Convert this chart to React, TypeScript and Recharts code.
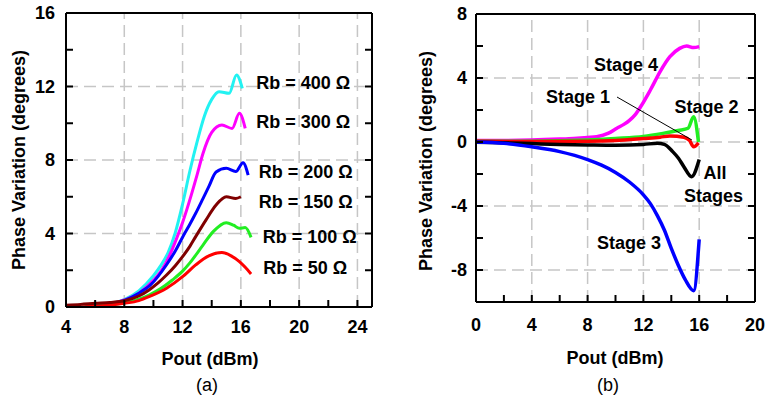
import React from 'react';
import { LineChart, Line, XAxis, YAxis, ReferenceLine, ReferenceDot } from 'recharts';

const FONT = '"Liberation Sans", Arial, Helvetica, sans-serif';

// ---------- Chart (a) data ----------
const rb400: number[][] = [[5.2, 0], [6, 0.05], [7, 0.16], [8, 0.4], [9, 0.88], [10, 1.7], [10.5, 2.25], [11, 2.95], [11.5, 4.05], [12, 5.6], [12.5, 7.4], [13, 9.0], [13.5, 10.4], [14, 11.3], [14.5, 11.72], [15.2, 11.63], [15.7, 12.63], [16.1, 11.9]];
const rb300: number[][] = [[5.3, 0], [6, 0.05], [7, 0.15], [8, 0.38], [9, 0.75], [10, 1.45], [10.6, 2.05], [11.1, 2.8], [11.6, 3.75], [12, 4.6], [12.6, 6.1], [13, 7.2], [13.4, 8.35], [14, 9.5], [14.7, 9.9], [15.4, 9.72], [15.9, 10.54], [16.3, 9.72]];
const rb200: number[][] = [[5.4, 0], [6, 0.05], [7, 0.14], [8, 0.36], [9, 0.75], [9.8, 1.2], [10.9, 2.3], [11.5, 3.05], [12, 3.8], [12.5, 4.5], [12.9, 5.1], [13.4, 5.9], [13.8, 6.55], [14.3, 7.35], [15, 7.55], [15.65, 7.37], [16.15, 7.85], [16.5, 7.18]];
const rb150: number[][] = [[4, 0.1], [5, 0.14], [6, 0.2], [7, 0.25], [8, 0.34], [9, 0.6], [9.7, 0.93], [10.3, 1.3], [10.9, 1.74], [11.5, 2.25], [12, 2.74], [12.5, 3.3], [12.9, 3.83], [13.6, 4.73], [14.3, 5.55], [15, 6.0], [15.65, 5.91], [16, 6.0]];
const rb100: number[][] = [[5.3, 0], [6, 0.05], [7, 0.12], [8, 0.23], [9, 0.42], [9.7, 0.65], [10.5, 1.0], [11.3, 1.47], [12, 1.95], [12.5, 2.4], [13.4, 3.37], [14.1, 4.1], [15, 4.59], [15.5, 4.45], [15.9, 4.28], [16.3, 4.32], [16.7, 3.79]];
const rb50: number[][] = [[5.1, 0], [6, 0.05], [7, 0.1], [8, 0.2], [9, 0.35], [9.7, 0.56], [10.9, 1.02], [12, 1.65], [12.9, 2.29], [13.8, 2.78], [14.7, 2.96], [15.3, 2.8], [15.9, 2.47], [16.3, 2.16], [16.7, 1.8]];

const aXTicks = [4, 6, 8, 10, 12, 14, 16, 18, 20, 22, 24];
const aXLabels = [4, 8, 12, 16, 20, 24];
const aYTicks = [0, 2, 4, 6, 8, 10, 12, 14, 16];
const aYLabels = [0, 4, 8, 12, 16];
const aGridX = [8, 12, 16, 20, 24];
const aGridY = [4, 8, 12];

const aNotes: { text: string; x: number; y: number }[] = [
  { text: 'Rb = 400 Ω', x: 20.28, y: 12.19 },
  { text: 'Rb = 300 Ω', x: 20.28, y: 10.07 },
  { text: 'Rb = 200 Ω', x: 20.45, y: 7.35 },
  { text: 'Rb = 150 Ω', x: 20.45, y: 5.71 },
  { text: 'Rb = 100 Ω', x: 20.72, y: 3.81 },
  { text: 'Rb = 50 Ω', x: 20.42, y: 2.12 },
];

// ---------- Chart (b) data ----------
const stage4: number[][] = [[0, 0.1], [2, 0.1], [4, 0.12], [6, 0.18], [7, 0.22], [8, 0.28], [8.65, 0.33], [9.5, 0.55], [10.1, 0.86], [10.6, 1.1], [11, 1.35], [11.4, 1.7], [11.8, 2.2], [12.5, 3.25], [13.2, 4.4], [13.9, 5.33], [14.6, 5.85], [15.1, 6.0], [15.6, 5.9], [16, 5.96]];
const stage2: number[][] = [[0, 0.05], [4, 0.05], [8, 0.12], [10, 0.22], [12, 0.35], [13.4, 0.54], [14.5, 0.72], [15.2, 0.86], [15.6, 1.58], [15.95, 0]];
const stage1: number[][] = [[0, 0.05], [4, 0.03], [8, 0.05], [10, 0.1], [12, 0.22], [13.2, 0.3], [13.9, 0.38], [14.9, 0.3], [15.3, 0.1], [15.6, -0.3], [15.95, -0.05]];
const allStages: number[][] = [[0, -0.02], [2, -0.05], [4, -0.1], [6, -0.15], [8, -0.18], [10, -0.2], [12, -0.15], [13, -0.08], [13.5, -0.15], [14.1, -0.6], [14.5, -1.0], [14.9, -1.54], [15.45, -2.17], [16, -1.1]];
const stage3: number[][] = [[0, 0], [2, -0.08], [4, -0.3], [6, -0.6], [8, -1.1], [9, -1.45], [10, -1.9], [11, -2.5], [12, -3.3], [12.5, -3.85], [13, -4.6], [13.5, -5.5], [14, -6.65], [14.5, -7.7], [15, -8.6], [15.6, -9.29], [16, -6.08]];

const bXTicks = [0, 2, 4, 6, 8, 10, 12, 14, 16, 18, 20];
const bXLabels = [0, 4, 8, 12, 16, 20];
const bYTicks = [-10, -8, -6, -4, -2, 0, 2, 4, 6, 8];
const bYLabels = [-8, -4, 0, 4, 8];
const bGridX = [4, 8, 12, 16];
const bGridY = [-8, -4, 0, 4];

const bNotes: { text: string; x: number; y: number }[] = [
  { text: 'Stage 4', x: 10.75, y: 4.81 },
  { text: 'Stage 1', x: 7.31, y: 2.81 },
  { text: 'Stage 2', x: 16.52, y: 2.19 },
  { text: 'All', x: 17.13, y: -1.94 },
  { text: 'Stages', x: 17.03, y: -3.375 },
  { text: 'Stage 3', x: 10.97, y: -6.31 },
];
const leader = [{ x: 10.11, y: 2.81 }, { x: 15.48, y: 0.125 }];

const toPts = (arr: number[][]) => arr.map(([x, y]) => ({ x, y }));
const fmt = (labels: number[]) => (v: number) => (labels.includes(v) ? String(v) : '');

const tickStyle = { fill: '#000', fontSize: 18, fontWeight: 700, fontFamily: FONT };
const gridStyle = { stroke: '#c6c6c6', strokeWidth: 1.5, strokeDasharray: '12 6' };
const axisLine = { stroke: '#000', strokeWidth: 2 };

const textBold: React.CSSProperties = {
  position: 'absolute',
  fontFamily: FONT,
  fontWeight: 700,
  fontSize: 18,
  color: '#000',
  whiteSpace: 'nowrap',
  lineHeight: '20px',
};

function Title({ x, y, text, rotate, bold = true }: { x: number; y: number; text: string; rotate?: boolean; bold?: boolean }) {
  return (
    <div
      style={{
        ...textBold,
        fontWeight: bold ? 700 : 400,
        left: x,
        top: y,
        transform: `translate(-50%, -50%)${rotate ? ' rotate(-90deg)' : ''}`,
      }}
    >
      {text}
    </div>
  );
}

function ChartA() {
  const series: [number[][], string][] = [
    [rb400, '#22f2f2'],
    [rb300, '#ff00ff'],
    [rb200, '#0000ff'],
    [rb100, '#22ee22'],
    [rb50, '#ff0000'],
    [rb150, '#800000'],
  ];
  return (
    <LineChart width={382} height={402} margin={{ top: 13, right: 0, bottom: 65, left: 0 }} style={{ fontFamily: FONT }}>
      <XAxis
        type="number"
        dataKey="x"
        domain={[4, 25]}
        ticks={aXTicks}
        tickFormatter={fmt(aXLabels)}
        allowDataOverflow
        tickSize={-7}
        tickMargin={20}
        height={30}
        axisLine={axisLine}
        tickLine={{ stroke: '#000', strokeWidth: 2 }}
        tick={tickStyle}
        interval={0}
      />
      <YAxis
        type="number"
        domain={[0, 16]}
        ticks={aYTicks}
        tickFormatter={fmt(aYLabels)}
        allowDataOverflow
        tickSize={-7}
        tickMargin={18}
        width={66}
        axisLine={axisLine}
        tickLine={{ stroke: '#000', strokeWidth: 2 }}
        tick={tickStyle}
        interval={0}
      />
      <YAxis
        yAxisId="r"
        orientation="right"
        type="number"
        domain={[0, 16]}
        ticks={aYTicks}
        tickFormatter={() => ''}
        allowDataOverflow
        tickSize={-7}
        width={10}
        axisLine={axisLine}
        tickLine={{ stroke: '#000', strokeWidth: 2 }}
        interval={0}
      />
      {aGridX.map((v) => (
        <ReferenceLine key={'gx' + v} x={v} {...gridStyle} />
      ))}
      {aGridY.map((v) => (
        <ReferenceLine key={'gy' + v} y={v} {...gridStyle} />
      ))}
      <ReferenceLine y={16} stroke="#000" strokeWidth={2} />
      {series.map(([d, c], i) => (
        <Line
          key={i}
          data={toPts(d)}
          dataKey="y"
          type="monotone"
          stroke={c}
          strokeWidth={3}
          dot={false}
          isAnimationActive={false}
        />
      ))}
      {aNotes.map((n) => (
        <ReferenceDot
          key={n.text}
          x={n.x}
          y={n.y}
          r={0}
          fill="none"
          stroke="none"
          label={{ value: n.text, position: 'center', fill: '#000', fontSize: 18, fontWeight: 700, fontFamily: FONT }}
        />
      ))}
    </LineChart>
  );
}

function ChartB() {
  const series: [number[][], string, number][] = [
    [stage4, '#ff00ff', 3.5],
    [stage2, '#22ee22', 3.5],
    [stage1, '#ff0000', 3.5],
    [allStages, '#000000', 3.5],
    [stage3, '#0000ff', 3.5],
  ];
  return (
    <LineChart width={382} height={402} margin={{ top: 14, right: 0, bottom: 70, left: 0 }} style={{ fontFamily: FONT }}>
      <XAxis
        type="number"
        dataKey="x"
        domain={[0, 20]}
        ticks={bXTicks}
        tickFormatter={fmt(bXLabels)}
        allowDataOverflow
        tickSize={-7}
        tickMargin={23}
        height={30}
        axisLine={axisLine}
        tickLine={{ stroke: '#000', strokeWidth: 2 }}
        tick={tickStyle}
        interval={0}
      />
      <YAxis
        type="number"
        domain={[-10, 8]}
        ticks={bYTicks}
        tickFormatter={fmt(bYLabels)}
        allowDataOverflow
        tickSize={-7}
        tickMargin={16}
        width={93}
        axisLine={axisLine}
        tickLine={{ stroke: '#000', strokeWidth: 2 }}
        tick={tickStyle}
        interval={0}
      />
      <YAxis
        yAxisId="r"
        orientation="right"
        type="number"
        domain={[-10, 8]}
        ticks={bYTicks}
        tickFormatter={() => ''}
        allowDataOverflow
        tickSize={-7}
        width={10}
        axisLine={axisLine}
        tickLine={{ stroke: '#000', strokeWidth: 2 }}
        interval={0}
      />
      {bGridX.map((v) => (
        <ReferenceLine key={'gx' + v} x={v} {...gridStyle} />
      ))}
      {bGridY.map((v) => (
        <ReferenceLine key={'gy' + v} y={v} {...gridStyle} />
      ))}
      <ReferenceLine y={8} stroke="#000" strokeWidth={2} />
      {series.map(([d, c, w], i) => (
        <Line
          key={i}
          data={toPts(d)}
          dataKey="y"
          type="monotone"
          stroke={c}
          strokeWidth={w}
          dot={false}
          isAnimationActive={false}
        />
      ))}
      <ReferenceLine segment={leader} stroke="#000" strokeWidth={1} />
      {bNotes.map((n) => (
        <ReferenceDot
          key={n.text}
          x={n.x}
          y={n.y}
          r={0}
          fill="none"
          stroke="none"
          label={{ value: n.text, position: 'center', fill: '#000', fontSize: 18, fontWeight: 700, fontFamily: FONT }}
        />
      ))}
    </LineChart>
  );
}

export default function App() {
  return (
    <div style={{ position: 'absolute', left: 0, top: 0, width: 765, height: 402, background: '#fff', overflow: 'hidden' }}>
      <div style={{ position: 'absolute', left: 0, top: 0 }}>
        <ChartA />
      </div>
      <div style={{ position: 'absolute', left: 383, top: 0 }}>
        <ChartB />
      </div>
      <Title x={19} y={160} text="Phase Variation (degrees)" rotate />
      <Title x={426} y={161} text="Phase Variation (degrees)" rotate />
      <Title x={210} y={359} text="Pout (dBm)" />
      <Title x={615} y={358} text="Pout (dBm)" />
      <Title x={207} y={385} text="(a)" bold={false} />
      <Title x={608} y={385} text="(b)" bold={false} />
    </div>
  );
}
